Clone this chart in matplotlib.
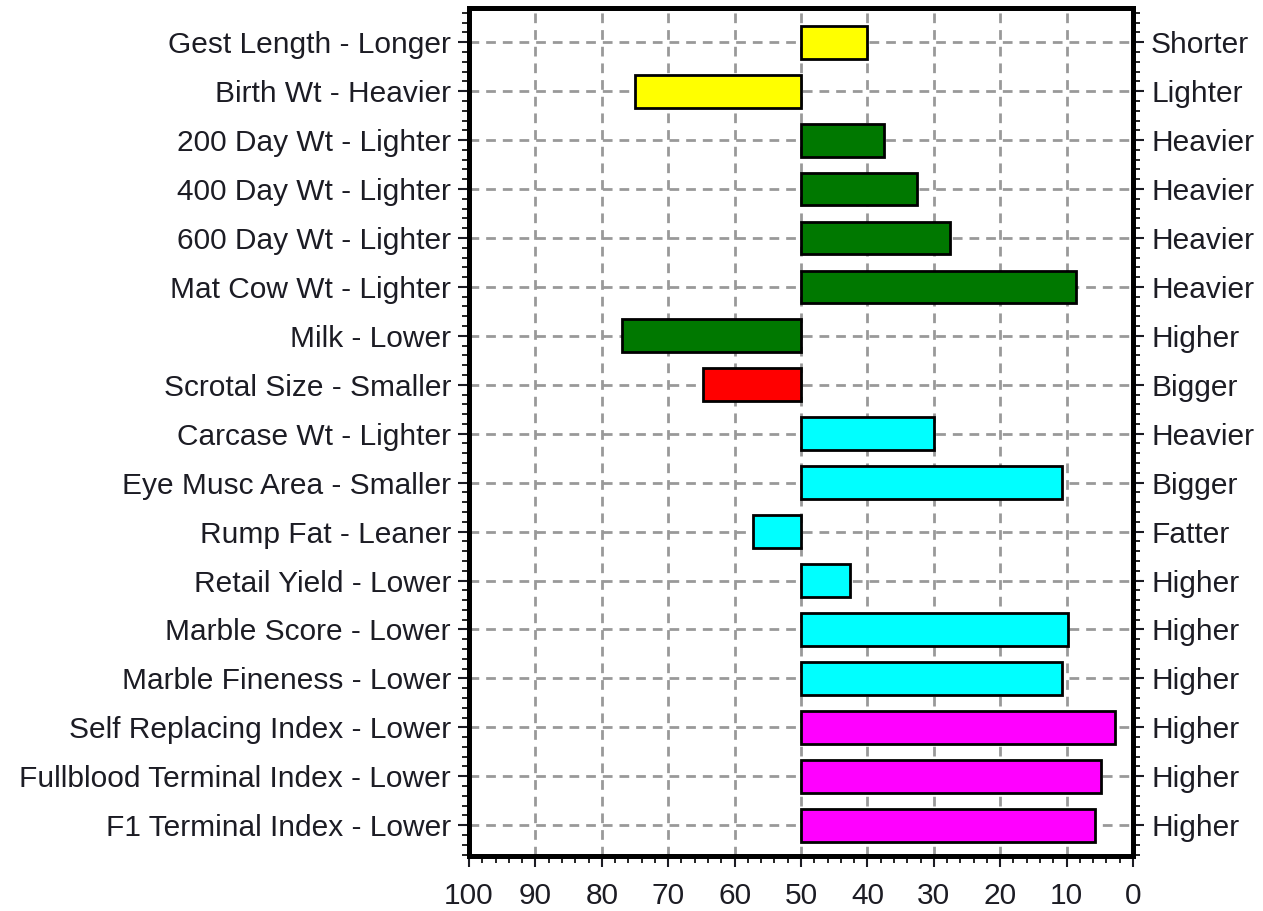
import numpy as np
import matplotlib.pyplot as plt
from matplotlib.ticker import MultipleLocator

plt.rcParams['font.family'] = ['Liberation Sans', 'DejaVu Sans']

# Traits (top to bottom)
left_labels = ['Gest Length - Longer', 'Birth Wt - Heavier', '200 Day Wt - Lighter',
               '400 Day Wt - Lighter', '600 Day Wt - Lighter', 'Mat Cow Wt - Lighter',
               'Milk - Lower', 'Scrotal Size - Smaller', 'Carcase Wt - Lighter',
               'Eye Musc Area - Smaller', 'Rump Fat - Leaner', 'Retail Yield - Lower',
               'Marble Score - Lower', 'Marble Fineness - Lower',
               'Self Replacing Index - Lower', 'Fullblood Terminal Index - Lower',
               'F1 Terminal Index - Lower']
right_labels = ['Shorter', 'Lighter', 'Heavier', 'Heavier', 'Heavier', 'Heavier',
                'Higher', 'Bigger', 'Heavier', 'Bigger', 'Fatter', 'Higher',
                'Higher', 'Higher', 'Higher', 'Higher', 'Higher']
# percentile rank (bar drawn from 50)
values = [40, 75, 37.5, 32.5, 27.5, 8.6, 77, 64.8, 30, 10.7, 57.2, 42.6,
          9.8, 10.7, 2.7, 4.8, 5.7]
colors = ['#FFFF00', '#FFFF00', '#007800', '#007800', '#007800', '#007800',
          '#007800', '#FF0000', '#00FFFF', '#00FFFF', '#00FFFF', '#00FFFF',
          '#00FFFF', '#00FFFF', '#FF00FF', '#FF00FF', '#FF00FF']

base = 50
y = np.arange(len(values))

fig = plt.figure(figsize=(12.63, 9.11), dpi=100)
ax = fig.add_axes([469/1263, 1 - 856/911, (1133-469)/1263, (856-8)/911])

widths = [v - base for v in values]
ax.barh(y, widths, left=base, height=0.67, color=colors, edgecolor='black',
        linewidth=2, zorder=3)

ax.set_xlim(100, 0)
ax.set_ylim(len(values) - 1 + 0.63, -0.7)
ax.xaxis.set_major_locator(MultipleLocator(10))
ax.xaxis.set_minor_locator(MultipleLocator(2))

ax.set_yticks(y)
ax.set_yticklabels(left_labels)
ax.yaxis.set_minor_locator(MultipleLocator(0.2))

ax.grid(True, which='major', color='#999999', linestyle=(0, (3.5, 2.5)), linewidth=2, zorder=0)

ax2 = ax.twinx()
ax2.set_ylim(ax.get_ylim())
ax2.set_yticks(y)
ax2.set_yticklabels(right_labels)
ax2.yaxis.set_minor_locator(MultipleLocator(0.2))

for a in (ax, ax2):
    for s in a.spines.values():
        s.set_linewidth(3.5)
    a.tick_params(which='major', length=8, width=1.5, labelsize=21.5, colors='#1c1c24')
    a.tick_params(which='minor', length=5, width=1.2)
ax.tick_params(axis='x', pad=11)
ax.tick_params(axis='y', pad=5)
ax2.tick_params(axis='y', pad=5)

fig.savefig('out.png', dpi=100)
